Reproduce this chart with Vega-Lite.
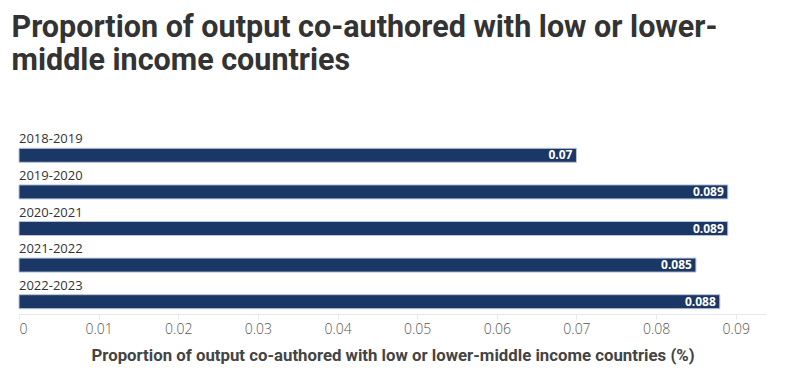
{
  "$schema": "https://vega.github.io/schema/vega-lite/v6.json",
  "width": 747,
  "height": 183,
  "autosize": "none",
  "padding": {"left": 19, "top": 131, "right": 29, "bottom": 71},
  "background": "white",
  "title": {
    "text": ["Proportion of output co-authored with low or lower-", "middle income countries"],
    "anchor": "start",
    "dx": -7,
    "offset": 55,
    "font": "Roboto",
    "fontSize": 30.5,
    "fontWeight": "bold",
    "color": "#333333",
    "lineHeight": 33
  },
  "data": {
    "values": [
      {"period": "2018-2019", "value": 0.07},
      {"period": "2019-2020", "value": 0.089},
      {"period": "2020-2021", "value": 0.089},
      {"period": "2021-2022", "value": 0.085},
      {"period": "2022-2023", "value": 0.088}
    ]
  },
  "encoding": {
    "y": {"field": "period", "type": "nominal", "sort": null, "axis": null,
          "scale": {"paddingInner": 0, "paddingOuter": 0}}
  },
  "layer": [
    {
      "mark": {"type": "bar", "height": 14, "yOffset": 6, "color": "#1b3766", "stroke": "#b9c4d6", "strokeWidth": 1},
      "encoding": {
        "x": {
          "field": "value", "type": "quantitative",
          "scale": {"domain": [0, 0.0938], "nice": false, "zero": true},
          "axis": {
            "values": [0, 0.01, 0.02, 0.03, 0.04, 0.05, 0.06, 0.07, 0.08, 0.09],
            "format": "~g",
            "grid": false,
            "domainColor": "#e8e8e8",
            "tickColor": "#e8e8e8",
            "tickSize": 5,
            "labelFont": "Open Sans",
            "labelFontWeight": 300,
            "labelFontSize": 14,
            "labelColor": "#555555",
            "labelPadding": 3,
            "title": "Proportion of output co-authored with low or lower-middle income countries (%)",
            "titleFont": "Roboto",
            "titleFontSize": 16.8,
            "titleFontWeight": "bold",
            "titleColor": "#444444",
            "titlePadding": 11
          }
        }
      }
    },
    {
      "mark": {"type": "text", "align": "left", "baseline": "alphabetic", "yOffset": -6, "font": "Open Sans", "fontSize": 13, "color": "#333333"},
      "encoding": {
        "x": {"datum": 0},
        "text": {"field": "period"}
      }
    },
    {
      "mark": {"type": "text", "align": "right", "baseline": "middle", "dx": -4, "yOffset": 6, "font": "Open Sans", "fontWeight": "bold", "fontSize": 12, "color": "white"},
      "encoding": {
        "x": {"field": "value", "type": "quantitative"},
        "text": {"field": "value", "type": "quantitative", "format": "~g"}
      }
    }
  ],
  "config": {"view": {"stroke": null}}
}
